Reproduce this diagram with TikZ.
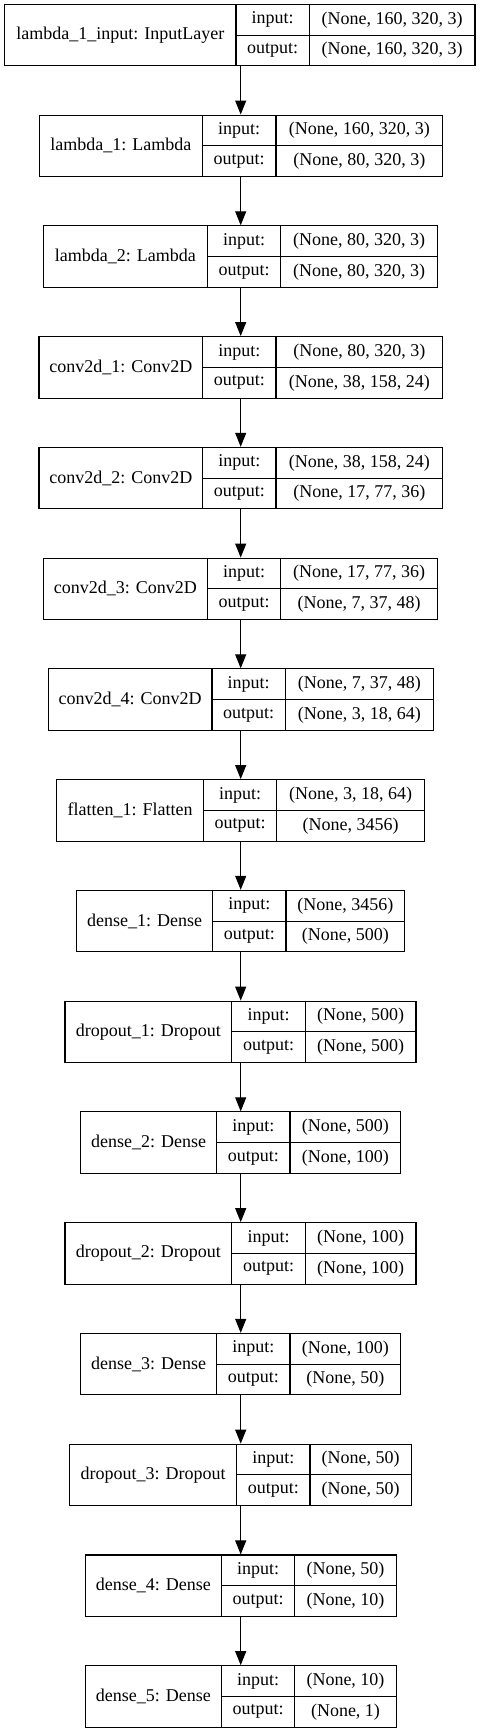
\documentclass[tikz,border=0pt]{standalone}
\usepackage{fontspec}
\setmainfont{Liberation Serif}
\usetikzlibrary{arrows.meta}
\tikzset{
  cell/.style={draw,line width=1.1pt,inner sep=0pt,minimum height=30.75pt,
    font=\fontsize{18}{20}\selectfont},
  namecell/.style={cell,minimum height=61.5pt},
  flow/.style={line width=1.1pt,-{Triangle[length=14pt,width=11pt]}}
}

\begin{document}
\begin{tikzpicture}[x=1pt,y=-1pt]
  \useasboundingbox (0,0) rectangle (481,1733);
  \coordinate (axis) at (240.7,0);
  % left / split 1 / split 2 / right / layer / input shape / output shape
  \foreach \l/\a/\b/\r/\lname/\inp/\outp [count=\i from 0] in {
      4.7/236/309.3/475/{lambda\_1\_input: InputLayer}/{None, 160, 320, 3}/{None, 160, 320, 3},
      39.3/202.3/276/442.7/{lambda\_1: Lambda}/{None, 160, 320, 3}/{None, 80, 320, 3},
      43.3/207.3/280.7/437.7/{lambda\_2: Lambda}/{None, 80, 320, 3}/{None, 80, 320, 3},
      39/202.7/276/442.7/{conv2d\_1: Conv2D}/{None, 80, 320, 3}/{None, 38, 158, 24},
      39/202.7/276/442.7/{conv2d\_2: Conv2D}/{None, 38, 158, 24}/{None, 17, 77, 36},
      43.3/207.3/280.7/437.7/{conv2d\_3: Conv2D}/{None, 17, 77, 36}/{None, 7, 37, 48},
      48.3/212/285.3/433.3/{conv2d\_4: Conv2D}/{None, 7, 37, 48}/{None, 3, 18, 64},
      56.7/203.3/276.7/424.7/{flatten\_1: Flatten}/{None, 3, 18, 64}/{None, 3456},
      76.7/212.7/286/404.7/{dense\_1: Dense}/{None, 3456}/{None, 500},
      65/231.7/305.3/416/{dropout\_1: Dropout}/{None, 500}/{None, 500},
      80.7/216.7/290/400.7/{dense\_2: Dense}/{None, 500}/{None, 100},
      65/231.7/305.3/416/{dropout\_2: Dropout}/{None, 100}/{None, 100},
      80.7/216.7/290/400.7/{dense\_3: Dense}/{None, 100}/{None, 50},
      69.7/236.7/310/411.3/{dropout\_3: Dropout}/{None, 50}/{None, 50},
      85.3/221.3/294.7/396.3/{dense\_4: Dense}/{None, 50}/{None, 10},
      85.3/221.3/294.7/396.3/{dense\_5: Dense}/{None, 10}/{None, 1}}{
    \pgfmathsetmacro{\t}{4.3+110.76*\i}
    \node[namecell,minimum width={\a-\l}] (b\i) at ({(\l+\a)/2},{\t+30.75}) {\lname};
    \node[cell,minimum width={\b-\a}] (in\i) at ({(\a+\b)/2},{\t+15.375}) {input:};
    \node[cell,minimum width={\b-\a}] (out\i) at ({(\a+\b)/2},{\t+46.125}) {output:};
    \node[cell,minimum width={\r-\b}] (inv\i) at ({(\b+\r)/2},{\t+15.375}) {(\inp)};
    \node[cell,minimum width={\r-\b}] (outv\i) at ({(\b+\r)/2},{\t+46.125}) {(\outp)};
  }
  \foreach \i [evaluate=\i as \j using int(\i+1)] in {0,...,14}
    \draw[flow] (b\i.south -| axis) -- (b\j.north -| axis);
\end{tikzpicture}
\end{document}
